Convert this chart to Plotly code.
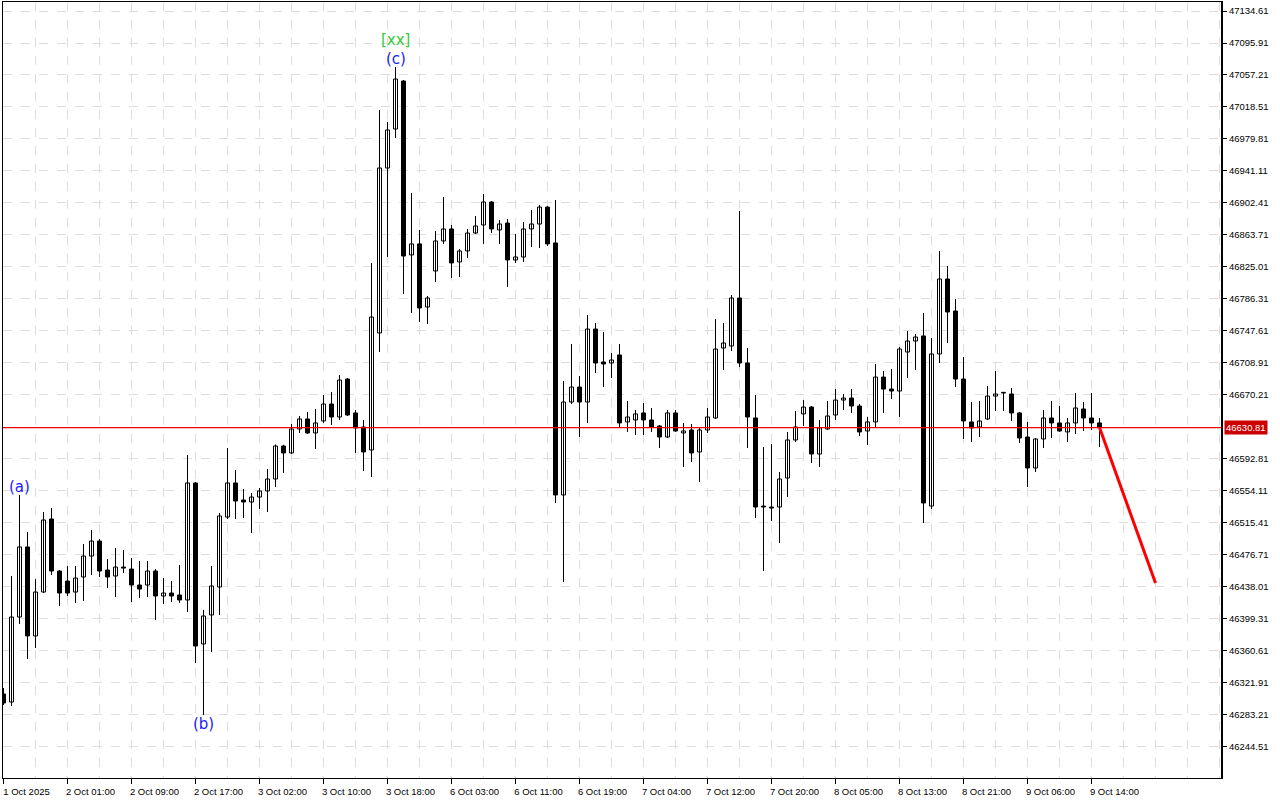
import plotly.graph_objects as go

# ---------------- data (hourly candles) ----------------
opens = [
    46308.6, 46298.9, 46401.7, 46486.4, 46378.8, 46431.9, 46520.2, 46457.3, 46445.2, 46431.9,
    46450.1, 46475.4, 46493.6, 46458.5, 46451.3, 46462.1, 46459.7, 46440.4, 46440.4, 46457.3,
    46427.1, 46430.7, 46428.3, 46422.3, 46563.8, 46369.1, 46404.2, 46438.0, 46522.6, 46563.8,
    46543.2, 46540.8, 46546.8, 46554.1, 46568.6, 46608.5, 46600.1, 46629.1, 46641.2, 46624.3,
    46638.8, 46659.3, 46643.6, 46689.5, 46648.5, 46631.5, 46603.7, 46745.2, 46944.7, 46991.9,
    47049.9, 46839.6, 46852.9, 46776.6, 46820.2, 46856.5, 46871.0, 46831.1, 46844.4, 46866.1,
    46875.8, 46903.6, 46869.8, 46878.2, 46833.5, 46837.1, 46871.0, 46877.0, 46897.5, 46854.1,
    46549.3, 46661.7, 46679.8, 46661.7, 46750.0, 46710.1, 46708.9, 46718.6, 46637.6, 46640.0,
    46648.5, 46640.0, 46632.7, 46619.4, 46648.5, 46624.3, 46627.9, 46601.3, 46627.9, 46642.4,
    46727.0, 46729.4, 46787.5, 46708.9, 46642.4, 46535.9, 46534.7, 46534.7, 46569.8, 46615.8,
    46647.3, 46655.6, 46598.8, 46629.1, 46646.0, 46664.1, 46666.5, 46656.9, 46626.7, 46637.6,
    46691.9, 46677.4, 46675.0, 46722.2, 46735.5, 46741.6, 46535.9, 46719.8, 46810.5, 46771.8,
    46689.5, 46637.6, 46631.5, 46641.2, 46668.9, 46672.6, 46671.4, 46648.5, 46619.4, 46581.9,
    46617.0, 46642.4, 46636.4, 46625.5, 46636.4, 46653.3, 46642.4, 46636.4,
]
highs = [
    46315.8, 46451.3, 46549.3, 46504.5, 46447.6, 46528.7, 46533.5, 46458.5, 46463.3, 46463.3,
    46490.0, 46506.9, 46496.0, 46471.8, 46485.2, 46482.7, 46473.0, 46469.4, 46469.4, 46459.7,
    46448.8, 46445.2, 46464.6, 46597.7, 46565.0, 46410.2, 46463.3, 46527.5, 46606.1, 46579.5,
    46556.5, 46551.7, 46557.7, 46580.7, 46610.5, 46610.0, 46635.1, 46644.8, 46649.7, 46653.3,
    46670.2, 46673.8, 46694.3, 46690.7, 46652.1, 46640.0, 46829.9, 47014.9, 47000.4, 47066.8,
    47051.1, 46914.5, 46869.8, 46789.9, 46868.6, 46909.6, 46875.8, 46846.8, 46871.0, 46886.7,
    46913.3, 46904.8, 46881.8, 46883.0, 46865.0, 46879.4, 46893.9, 46900.0, 46898.7, 46906.0,
    46687.1, 46731.9, 46693.1, 46767.0, 46757.3, 46746.4, 46721.0, 46731.9, 46662.9, 46652.1,
    46660.5, 46654.5, 46633.9, 46652.1, 46652.1, 46636.4, 46635.1, 46631.5, 46654.5, 46762.1,
    46757.3, 46791.1, 46892.7, 46727.0, 46670.2, 46607.3, 46611.0, 46577.1, 46625.5, 46650.9,
    46664.1, 46656.9, 46640.0, 46662.9, 46677.4, 46671.4, 46677.4, 46659.3, 46643.6, 46707.7,
    46699.2, 46701.6, 46728.2, 46747.6, 46744.0, 46769.4, 46739.1, 46844.4, 46826.2, 46786.3,
    46716.1, 46661.7, 46662.9, 46681.1, 46699.2, 46673.8, 46678.6, 46649.7, 46637.6, 46618.2,
    46652.1, 46662.9, 46656.9, 46642.4, 46672.6, 46661.7, 46672.6, 46642.4,
]
lows = [
    46295.3, 46294.0, 46393.3, 46350.9, 46364.3, 46430.7, 46452.5, 46415.0, 46427.1, 46418.7,
    46421.1, 46452.5, 46450.1, 46436.7, 46425.9, 46454.9, 46419.9, 46424.7, 46425.9, 46398.1,
    46417.5, 46419.9, 46418.7, 46407.8, 46346.1, 46283.2, 46359.4, 46404.2, 46520.2, 46520.2,
    46521.4, 46503.3, 46532.3, 46528.7, 46559.0, 46575.9, 46599.0, 46624.3, 46623.1, 46604.9,
    46636.4, 46633.9, 46640.0, 46644.8, 46600.1, 46578.3, 46571.0, 46722.2, 46837.1, 46981.0,
    46792.4, 46769.4, 46758.5, 46756.1, 46806.9, 46852.9, 46811.7, 46812.9, 46835.9, 46865.0,
    46852.9, 46866.1, 46852.9, 46800.9, 46829.9, 46831.1, 46849.2, 46848.0, 46850.4, 46539.6,
    46444.0, 46659.3, 46619.4, 46636.4, 46696.8, 46679.8, 46690.7, 46630.3, 46625.5, 46621.8,
    46621.8, 46625.5, 46606.1, 46618.2, 46625.5, 46583.1, 46589.2, 46565.0, 46624.3, 46641.2,
    46700.4, 46723.4, 46704.0, 46606.1, 46521.4, 46457.3, 46517.8, 46491.2, 46546.8, 46613.4,
    46632.7, 46588.0, 46583.1, 46627.9, 46640.0, 46652.1, 46648.5, 46620.6, 46609.8, 46630.3,
    46648.5, 46665.3, 46643.6, 46690.7, 46700.4, 46515.4, 46532.3, 46708.9, 46733.1, 46679.8,
    46617.0, 46613.4, 46619.4, 46640.0, 46650.9, 46650.9, 46638.8, 46612.2, 46559.0, 46577.1,
    46606.1, 46618.2, 46625.5, 46613.4, 46623.1, 46626.7, 46627.9, 46607.3,
]
closes = [
    46297.7, 46401.7, 46486.4, 46378.8, 46431.9, 46519.0, 46457.3, 46430.7, 46430.7, 46448.8,
    46475.4, 46493.6, 46457.3, 46450.1, 46462.1, 46460.9, 46440.4, 46435.5, 46457.3, 46427.1,
    46430.7, 46427.1, 46422.3, 46563.8, 46366.6, 46402.9, 46439.2, 46523.9, 46563.8, 46542.0,
    46540.8, 46546.8, 46554.1, 46568.6, 46608.5, 46600.1, 46629.1, 46641.2, 46624.3, 46636.4,
    46659.3, 46643.6, 46688.3, 46646.0, 46630.3, 46601.3, 46764.5, 46944.7, 46990.7, 47052.3,
    46838.3, 46852.9, 46775.4, 46787.5, 46856.5, 46871.0, 46829.9, 46844.4, 46866.1, 46874.6,
    46903.6, 46871.0, 46877.0, 46833.5, 46837.1, 46871.0, 46877.0, 46897.5, 46852.9, 46549.3,
    46661.7, 46679.8, 46661.7, 46750.0, 46708.9, 46707.7, 46712.5, 46636.4, 46643.6, 46647.3,
    46640.0, 46631.5, 46619.4, 46648.5, 46626.7, 46626.7, 46600.1, 46627.9, 46643.6, 46725.8,
    46733.1, 46787.5, 46708.9, 46643.6, 46534.7, 46534.7, 46533.5, 46568.6, 46615.8, 46631.5,
    46655.6, 46598.8, 46630.3, 46644.8, 46664.1, 46666.5, 46656.9, 46625.5, 46637.6, 46691.9,
    46677.4, 46675.0, 46725.8, 46735.5, 46740.3, 46539.6, 46719.8, 46810.5, 46770.6, 46689.5,
    46638.8, 46630.3, 46638.8, 46668.9, 46671.4, 46672.8, 46648.5, 46618.2, 46581.9, 46617.0,
    46642.4, 46636.4, 46626.7, 46636.4, 46654.5, 46642.4, 46636.4, 46630.81,
]

# bar index of each date label on the time axis
x_tick_index = [0, 8, 16, 24, 32, 40, 48, 56, 64, 72, 80, 88, 96, 104, 112, 120, 128, 136]
x_tick_labels = ["1 Oct 2025", "2 Oct 01:00", "2 Oct 09:00", "2 Oct 17:00", "3 Oct 02:00",
                 "3 Oct 10:00", "3 Oct 18:00", "6 Oct 03:00", "6 Oct 11:00", "6 Oct 19:00",
                 "7 Oct 04:00", "7 Oct 12:00", "7 Oct 20:00", "8 Oct 05:00", "8 Oct 13:00",
                 "8 Oct 21:00", "9 Oct 06:00", "9 Oct 14:00"]

y_tick_values = [47134.61, 47095.91, 47057.21, 47018.51, 46979.81, 46941.11, 46902.41,
                 46863.71, 46825.01, 46786.31, 46747.61, 46708.91, 46670.21, 46592.81,
                 46554.11, 46515.41, 46476.71, 46438.01, 46399.31, 46360.61, 46321.91,
                 46283.21, 46244.51]

# forecast arrow (bar index, price)
forecast_x = [137, 144]
forecast_y = [46630.81, 46442.8]

# wave labels: (bar index, text, colour, placed at high/low)
wave_labels = [(2, "(a)", "#1a1aff", "high"), (25, "(b)", "#1a1aff", "low"),
               (49, "(c)", "#1a1aff", "high")]

# ---------------- figure ----------------
n = len(opens)
idx = list(range(n))
x_min, x_max = -0.0625, 152.3125

wx, wy = [], []
for i in idx:
    wx += [i, i, None]
    wy += [lows[i], highs[i], None]

base = [min(o, c) for o, c in zip(opens, closes)]
height = [max(abs(c - o), 0.8) for o, c in zip(opens, closes)]
fill = ["#ffffff" if c >= o else "#000000" for o, c in zip(opens, closes)]

fig = go.Figure()
fig.add_trace(go.Scatter(x=wx, y=wy, mode="lines", line=dict(color="black", width=1),
                         hoverinfo="skip", showlegend=False))
fig.add_trace(go.Bar(x=idx, y=height, base=base, width=0.5,
                     marker=dict(color=fill, line=dict(color="black", width=1)),
                     showlegend=False))

last_close = closes[-1]
# current bid line across the whole chart
fig.add_trace(go.Scatter(x=[x_min, x_max], y=[last_close, last_close], mode="lines",
                         line=dict(color="#ee0000", width=1.3), hoverinfo="skip",
                         showlegend=False))

fig.add_trace(go.Scatter(x=forecast_x, y=forecast_y, mode="lines",
                         line=dict(color="#ff0000", width=3), showlegend=False))

font_main = "Liberation Sans, Arial, sans-serif"
for i, txt, col, where in wave_labels:
    if where == "high":
        fig.add_annotation(x=i, y=highs[i], text=txt, showarrow=False, yanchor="bottom",
                           yshift=-3, font=dict(family="DejaVu Sans", size=15, color=col))
    else:
        fig.add_annotation(x=i, y=lows[i], text=txt, showarrow=False, yanchor="top",
                           yshift=2, font=dict(family="DejaVu Sans", size=15, color=col))
fig.add_annotation(x=49, y=highs[49], text="[xx]", showarrow=False, yanchor="bottom",
                   yshift=16, font=dict(family="DejaVu Sans", size=15, color="#33cc33"))

# current price tag on the price scale
fig.add_annotation(xref="paper", x=1, y=last_close, xanchor="left", xshift=2,
                   text=f"{last_close:.2f}", showarrow=False, bgcolor="#cc0000",
                   borderpad=1, font=dict(family=font_main, size=9.5, color="white"))

grid = "#dddddd"
fig.update_layout(
    template="none",
    width=1280, height=800,
    margin=dict(l=3, r=58, t=2, b=22, pad=0),
    paper_bgcolor="white", plot_bgcolor="white",
    showlegend=False, barmode="overlay",
    xaxis=dict(range=[x_min, x_max], tickmode="array", tickvals=x_tick_index,
               ticktext=x_tick_labels, ticks="outside", ticklen=5, tickcolor="black",
               tickwidth=1, showline=True, linecolor="black", linewidth=1, mirror=True,
               showgrid=True, gridcolor=grid, griddash="dash", gridwidth=1,
               zeroline=False, ticklabelshift=23,
               tickfont=dict(family=font_main, size=9.5, color="black"),
               minor=dict(tickmode="array", tickvals=list(range(0, 153, 4)), showgrid=True,
                          gridcolor=grid, griddash="dash", gridwidth=1, ticks=""),
               automargin=False, fixedrange=True),
    yaxis=dict(side="right", range=[46206.99, 47145.49], tickmode="array",
               tickvals=y_tick_values, ticktext=[f"{v:.2f}" for v in y_tick_values],
               ticks="outside", ticklen=4, tickcolor="black", showline=True,
               linecolor="black", linewidth=1, mirror=True, showgrid=True,
               gridcolor=grid, griddash="dash", gridwidth=1, zeroline=False,
               tickfont=dict(family=font_main, size=9.5, color="black"),
               automargin=False, fixedrange=True),
)
fig.add_shape(type="line", xref="paper", yref="paper", x0=1, x1=1, y0=0, y1=1,
              line=dict(color="black", width=2))

fig.write_html("out.html", config={"displayModeBar": False},
               post_script="document.body.style.margin='0px';document.body.style.padding='0px';")
